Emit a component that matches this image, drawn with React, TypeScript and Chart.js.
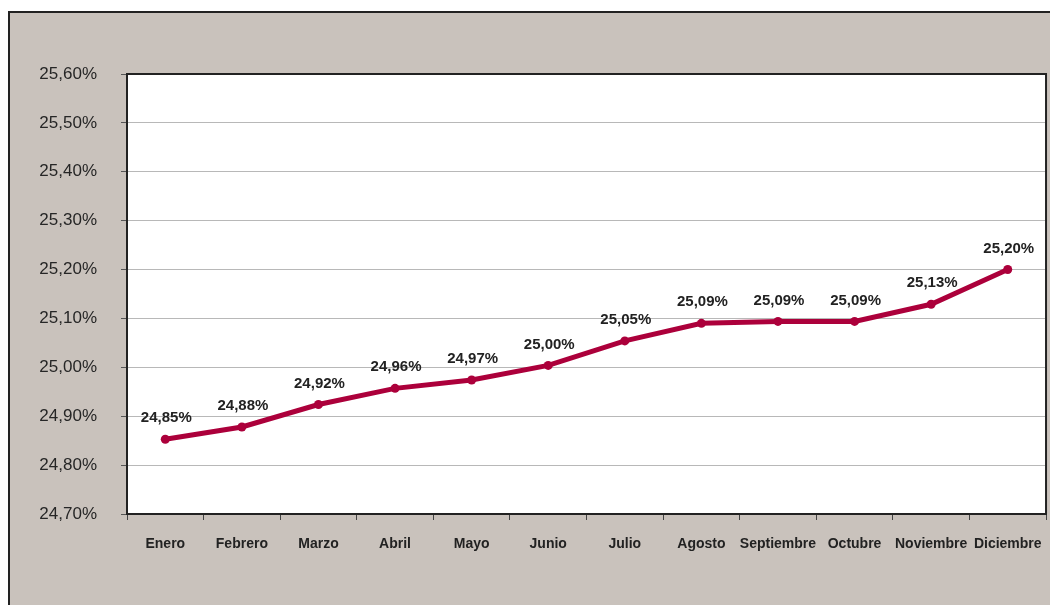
import React, { useEffect, useRef } from "react";
import { Chart, registerables } from "chart.js";

Chart.register(...registerables);

const months = [
  "Enero", "Febrero", "Marzo", "Abril", "Mayo", "Junio",
  "Julio", "Agosto", "Septiembre", "Octubre", "Noviembre", "Diciembre",
];
const rates = [
  24.853, 24.878, 24.924, 24.957, 24.974, 25.004,
  25.054, 25.09, 25.094, 25.094, 25.129, 25.2,
];
const yMin = 24.7;
const yMax = 25.6;
const yStep = 0.1;

const fmt = (v: number) => v.toFixed(2).replace(".", ",") + "%";

const framePlugin = {
  id: "frame",
  beforeDraw(chart: any) {
    const { ctx, width, height, chartArea } = chart;
    ctx.save();
    ctx.fillStyle = "#ffffff";
    ctx.fillRect(0, 0, width, height);
    ctx.fillStyle = "#c9c2bc";
    ctx.fillRect(0, 3, width, height - 3);
    ctx.fillStyle = "#222222";
    ctx.fillRect(0, 3, width, 2);
    ctx.fillRect(0, 3, 2, height - 3);
    ctx.fillStyle = "#ffffff";
    ctx.fillRect(chartArea.left, chartArea.top, chartArea.right - chartArea.left, chartArea.bottom - chartArea.top);
    ctx.restore();
  },
  afterDraw(chart: any) {
    const { ctx, chartArea } = chart;
    ctx.save();
    ctx.strokeStyle = "#222222";
    ctx.lineWidth = 2;
    ctx.beginPath();
    ctx.moveTo(chartArea.left, chartArea.top);
    ctx.lineTo(chartArea.right, chartArea.top);
    ctx.lineTo(chartArea.right, chartArea.bottom);
    ctx.stroke();
    ctx.restore();
  },
};

const labelPlugin = {
  id: "valueLabels",
  afterDatasetsDraw(chart: any) {
    const { ctx } = chart;
    const meta = chart.getDatasetMeta(0);
    ctx.save();
    ctx.font = "bold 15px 'Liberation Sans', Arial, sans-serif";
    ctx.fillStyle = "#222222";
    ctx.textAlign = "center";
    ctx.textBaseline = "middle";
    meta.data.forEach((pt: any, i: number) => {
      ctx.fillText(fmt(rates[i]), pt.x + 1, pt.y - 21);
    });
    ctx.restore();
  },
};

export default function App() {
  const ref = useRef<HTMLCanvasElement | null>(null);
  useEffect(() => {
    if (!ref.current) return;
    const chart = new Chart(ref.current, {
      type: "line",
      data: {
        labels: months,
        datasets: [
          {
            data: rates,
            borderColor: "#ac003b",
            backgroundColor: "#ac003b",
            borderWidth: 5,
            pointRadius: 4.5,
            pointHoverRadius: 4.5,
            pointBackgroundColor: "#ac003b",
            pointBorderWidth: 0,
            tension: 0,
          },
        ],
      },
      options: {
        animation: false,
        responsive: false,
        maintainAspectRatio: false,
        layout: { padding: { left: 0, top: 66, right: 10, bottom: 0 } },
        plugins: { legend: { display: false }, tooltip: { enabled: false } },
        scales: {
          x: {
            offset: true,
            grid: {
              offset: true,
              drawOnChartArea: false,
              drawTicks: true,
              tickLength: 6,
              tickColor: "#444444",
            },
            border: { color: "#222222", width: 2 },
            ticks: {
              autoSkip: false,
              maxRotation: 0,
              minRotation: 0,
              padding: 16,
              color: "#222222",
              font: { family: "'Liberation Sans', Arial, sans-serif", size: 14, weight: "bold" },
            },
            afterFit(scale: any) {
              scale.height = 91;
            },
          },
          y: {
            min: yMin,
            max: yMax,
            grid: {
              color: "#b8b8b8",
              lineWidth: 1,
              tickLength: 6,
              tickColor: "#555555",
            },
            border: { color: "#222222", width: 2 },
            ticks: {
              stepSize: yStep,
              padding: 24,
              color: "#262626",
              font: { family: "'Liberation Sans', Arial, sans-serif", size: 17 },
              callback: (v: any) => fmt(Number(v)),
            },
            afterFit(scale: any) {
              scale.width = 119;
            },
          },
        },
      },
      plugins: [framePlugin, labelPlugin],
    });
    return () => chart.destroy();
  }, []);
  return (
    <canvas ref={ref} width={1050} height={597} style={{ display: "block", width: 1050, height: 597 }} />
  );
}
